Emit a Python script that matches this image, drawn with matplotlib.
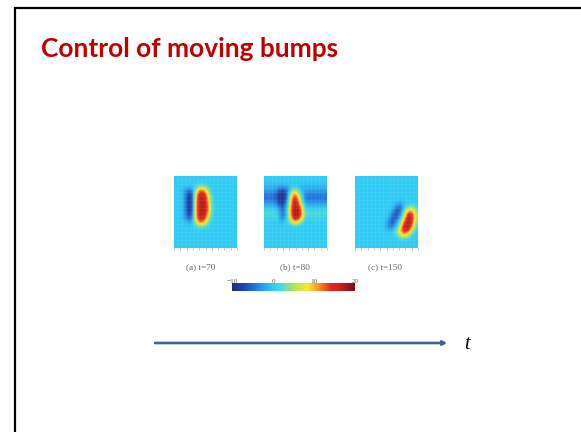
import matplotlib
matplotlib.use('Agg')
import matplotlib.pyplot as plt
from matplotlib.cm import ScalarMappable
from matplotlib.colors import LinearSegmentedColormap, Normalize
import numpy as np

W, H = 581, 432

title = 'Control of moving bumps'
panel_labels = ['(a) t=70', '(b) t=80', '(c) t=150']
cbar_ticks = [-10, 0, 10, 20]

# activity, 16 x 18 cells
field_a = [
    [0, 0, 0, 0, 0, 0, 0, 0, 0, 0, 0, 0, 0, 0, 0, 0],
    [0, 0, 0, 0, 0, 0, 0, 0, 0, 0, 0, 0, 0, 0, 0, 0],
    [0, 0, 0, 0, 0, 1, 3, 3, 1, 0, 0, 0, 0, 0, 0, 0],
    [0, 0, -1, -4, -4, 4, 12, 12, 5, 0, 0, 0, 0, 0, 0, 0],
    [0, 0, -1, -7, -8, 8, 16, 16, 10, 1, 0, 0, 0, 0, 0, 0],
    [0, 0, -1, -8, -9, 9, 17, 17, 12, 2, 0, 0, 0, 0, 0, 0],
    [0, 0, -1, -8, -9, 10, 17, 18, 13, 2, 0, 0, 0, 0, 0, 0],
    [0, 0, -1, -8, -9, 10, 17, 18, 14, 3, 0, 0, 0, 0, 0, 0],
    [0, 0, -1, -8, -9, 10, 17, 18, 14, 3, 0, 0, 0, 0, 0, 0],
    [0, 0, -1, -7, -8, 10, 17, 18, 12, 2, 0, 0, 0, 0, 0, 0],
    [0, 0, -1, -5, -6, 9, 16, 16, 9, 1, 0, 0, 0, 0, 0, 0],
    [0, 0, 0, -1, -2, 6, 13, 12, 5, 0, 0, 0, 0, 0, 0, 0],
    [0, 0, 0, 0, 0, 2, 4, 4, 1, 0, 0, 0, 0, 0, 0, 0],
    [0, 0, 0, 0, 0, 0, 0, 0, 0, 0, 0, 0, 0, 0, 0, 0],
    [0, 0, 0, 0, 0, 0, 0, 0, 0, 0, 0, 0, 0, 0, 0, 0],
    [0, 0, 0, 0, 0, 0, 0, 0, 0, 0, 0, 0, 0, 0, 0, 0],
    [0, 0, 0, 0, 0, 0, 0, 0, 0, 0, 0, 0, 0, 0, 0, 0],
    [0, 0, 0, 0, 0, 0, 0, 0, 0, 0, 0, 0, 0, 0, 0, 0],
]
field_b = [
    [0, 0, 0, 0, 0, 0, 0, 0, 0, 0, 0, 0, 0, 0, 0, 0],
    [0, 0, 0, 0, 0, 0, 0, 0, 0, 0, 0, 0, 0, 0, 0, 0],
    [-1, -1, -1, -1, -2, -1, -1, 0, -1, -1, -1, -1, -1, -1, -1, -1],
    [-2, -2, -2, -4, -7, -6, -1, 5, 3, -1, -2, -2, -2, -2, -2, -2],
    [-4, -4, -4, -7, -9, -8, 2, 12, 9, 1, -4, -4, -4, -4, -4, -4],
    [-5, -5, -5, -7, -10, -8, 4, 15, 13, 3, -5, -5, -5, -5, -5, -5],
    [-3, -3, -3, -6, -9, -6, 6, 16, 15, 5, -3, -3, -3, -3, -3, -3],
    [-1, -1, -1, -3, -7, -4, 7, 17, 17, 9, -1, -1, -1, -1, -1, -1],
    [1, 1, 1, 0, -5, -3, 8, 17, 19, 12, 1, 1, 1, 1, 1, 1],
    [2, 2, 2, 1, -5, -3, 8, 17, 19, 13, 2, 2, 2, 2, 2, 2],
    [1, 1, 1, 1, -4, -2, 6, 16, 17, 10, 1, 1, 1, 1, 1, 1],
    [0, 0, 0, 0, -1, 0, 3, 9, 9, 3, 0, 0, 0, 0, 0, 0],
    [0, 0, 0, 0, 0, 0, 0, 1, 1, 0, 0, 0, 0, 0, 0, 0],
    [0, 0, 0, 0, 0, 0, 0, 0, 0, 0, 0, 0, 0, 0, 0, 0],
    [0, 0, 0, 0, 0, 0, 0, 0, 0, 0, 0, 0, 0, 0, 0, 0],
    [0, 0, 0, 0, 0, 0, 0, 0, 0, 0, 0, 0, 0, 0, 0, 0],
    [0, 0, 0, 0, 0, 0, 0, 0, 0, 0, 0, 0, 0, 0, 0, 0],
    [0, 0, 0, 0, 0, 0, 0, 0, 0, 0, 0, 0, 0, 0, 0, 0],
]
field_c = [
    [0, 0, 0, 0, 0, 0, 0, 0, 0, 0, 0, 0, 0, 0, 0, 0],
    [0, 0, 0, 0, 0, 0, 0, 0, 0, 0, 0, 0, 0, 0, 0, 0],
    [0, 0, 0, 0, 0, 0, 0, 0, 0, 0, 0, 0, 0, 0, 0, 0],
    [0, 0, 0, 0, 0, 0, 0, 0, 0, 0, 0, 0, 0, 0, 0, 0],
    [0, 0, 0, 0, 0, 0, 0, 0, 0, 0, 0, 0, 0, 0, 0, 0],
    [0, 0, 0, 0, 0, 0, 0, 0, 0, 0, 0, 0, 0, 0, 0, 0],
    [0, 0, 0, 0, 0, 0, 0, 0, 0, 0, 0, -1, 0, 0, 0, 0],
    [0, 0, 0, 0, 0, 0, 0, 0, 0, 0, -3, -5, -1, 2, 3, 1],
    [0, 0, 0, 0, 0, 0, 0, 0, 0, -1, -6, -6, 2, 9, 10, 3],
    [0, 0, 0, 0, 0, 0, 0, 0, 0, -4, -7, -4, 5, 15, 15, 5],
    [0, 0, 0, 0, 0, 0, 0, 0, -1, -6, -6, -1, 9, 17, 16, 5],
    [0, 0, 0, 0, 0, 0, 0, 0, -3, -7, -3, 3, 13, 18, 15, 4],
    [0, 0, 0, 0, 0, 0, 0, 0, -4, -5, -1, 7, 16, 18, 12, 2],
    [0, 0, 0, 0, 0, 0, 0, 0, -1, -1, 2, 10, 16, 16, 7, 1],
    [0, 0, 0, 0, 0, 0, 0, 0, 0, 0, 3, 8, 12, 8, 2, 0],
    [0, 0, 0, 0, 0, 0, 0, 0, 0, 0, 0, 2, 3, 2, 0, 0],
    [0, 0, 0, 0, 0, 0, 0, 0, 0, 0, 0, 0, 0, 0, 0, 0],
    [0, 0, 0, 0, 0, 0, 0, 0, 0, 0, 0, 0, 0, 0, 0, 0],
]
fields = [field_a, field_b, field_c]

# colour bar from the picture: value, colour
bar_values = [-10, -7, -4, 0, 2, 5, 8.5, 11, 14, 17, 20]
bar_colors = ['#1c2a80', '#1f47b4', '#2480e0', '#30ccf5', '#48dcd8', '#b4e060',
              '#f8e830', '#f89828', '#e82a20', '#c01c20', '#701018']


def px_axes(fig, x0, y0, x1, y1):
    # pixel box measured from the top left of the picture
    return fig.add_axes([x0 / W, 1 - y1 / H, (x1 - x0) / W, (y1 - y0) / H])


fig = plt.figure(figsize=(W / 100, H / 100), dpi=100, facecolor='white')

bg = fig.add_axes([0, 0, 1, 1])
bg.set_xlim(0, W)
bg.set_ylim(H, 0)
bg.axis('off')

# slide frame runs off the right and bottom edges
bg.plot([14.5, 14.5, W], [H, 8, 8], color='black', linewidth=1.6, solid_joinstyle='miter')

bg.text(41, 57, title, color='#c00000', fontsize=18.9, fontweight='bold', family='Lato', va='baseline')

norm = Normalize(-10, 20)
stops = [(v - bar_values[0]) / (bar_values[-1] - bar_values[0]) for v in bar_values]
cmap = LinearSegmentedColormap.from_list('bar', list(zip(stops, bar_colors)))
lefts = [174, 264, 355]
label_x = [201, 295, 385]

for left, field, lab, lx in zip(lefts, fields, panel_labels, label_x):
    ax = px_axes(fig, left, 176, left + 63, 248)
    ax.imshow(np.array(field), cmap=cmap, norm=norm, aspect='auto', interpolation='bicubic',
              extent=[0, 16, 18, 0])
    for g in range(1, 16):
        ax.axvline(g, color='white', alpha=0.08, linewidth=0.5)
    for g in range(1, 18):
        ax.axhline(g, color='white', alpha=0.08, linewidth=0.5)
    ax.set_xticks(np.linspace(0, 16, 11))
    ax.set_yticks([])
    ax.set_xticklabels([])
    ax.tick_params(axis='x', length=1.2, width=0.4, color='#888888', pad=0)
    for s in ax.spines.values():
        s.set_visible(False)
    bg.text(lx, 267, lab, family='Liberation Serif', fontsize=6.6, color='#666666', ha='center', va='center')

cax = px_axes(fig, 232, 283, 355, 291)
cb = fig.colorbar(ScalarMappable(norm=norm, cmap=cmap), cax=cax, orientation='horizontal')
cb.set_ticks(cbar_ticks)
cb.ax.xaxis.set_ticks_position('top')
cb.ax.tick_params(labelsize=5.2, length=0, pad=-1, labelcolor='#666666')
for t in cb.ax.get_xticklabels():
    t.set_family('Liberation Serif')
cb.outline.set_visible(False)

bg.annotate('', xy=(447, 343), xytext=(155, 343),
            arrowprops=dict(arrowstyle='-|>,head_width=0.12,head_length=0.22', color='#3b6597',
                            linewidth=1.9, shrinkA=0, shrinkB=0))
bg.text(464, 349, 't', family='Liberation Serif', style='italic', fontsize=14.5, color='black')

fig.savefig('out.png', dpi=100)
plt.close(fig)
